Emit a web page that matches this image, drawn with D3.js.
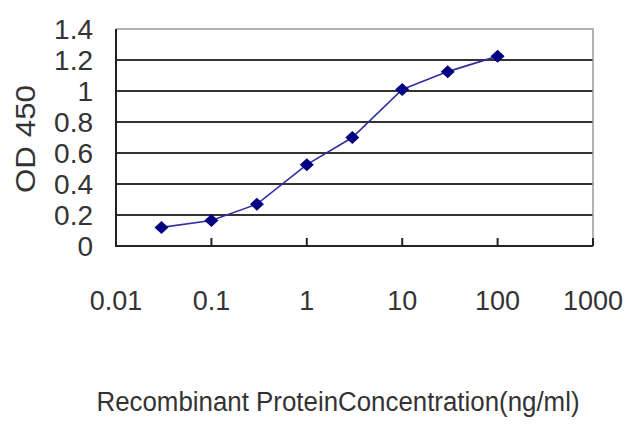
<!DOCTYPE html>
<html>
<head>
<meta charset="utf-8">
<script src="https://cdn.jsdelivr.net/npm/d3@7.9.0/dist/d3.min.js"></script>
<style>
  body { margin: 0; background: #fff; }
  svg text { font-family: "Liberation Sans", Arial, sans-serif; fill: #333; }
</style>
</head>
<body>
<svg id="chart" width="640" height="427"></svg>
<script>
// concentrations (ng/ml) and OD readings
const concentrations = [0.03, 0.1, 0.3, 1, 3, 10, 30, 100];
const odValues = [0.12, 0.165, 0.27, 0.525, 0.70, 1.01, 1.125, 1.225];
const xTicks = [0.01, 0.1, 1, 10, 100, 1000];
const yTicks = [0, 0.2, 0.4, 0.6, 0.8, 1, 1.2, 1.4];

const svg = d3.select('#chart');
const margin = { left: 116, right: 47, top: 29, bottom: 181 };
const width = 640 - margin.left - margin.right;
const height = 427 - margin.top - margin.bottom;

const x = d3.scaleLog().domain([0.01, 1000]).range([0, width]);
const y = d3.scaleLinear().domain([0, 1.4]).range([height, 0]);

const g = svg.append('g')
  .attr('transform', `translate(${margin.left},${margin.top})`);

// gridlines (skip 0 and top)
g.selectAll('line.grid')
  .data(yTicks.filter((d) => d > 0 && d < 1.4))
  .join('line')
  .attr('class', 'grid')
  .attr('x1', 0).attr('x2', width)
  .attr('y1', (d) => y(d)).attr('y2', (d) => y(d))
  .attr('stroke', '#333').attr('stroke-width', 2);

// top + right border, grey
g.append('path')
  .attr('d', `M0,${y(1.4)}H${width}V${height}`)
  .attr('fill', 'none').attr('stroke', '#999').attr('stroke-width', 1.5);

// left + bottom axis, black
g.append('path')
  .attr('d', `M0,${y(1.4)}V${height}H${width}`)
  .attr('fill', 'none').attr('stroke', '#222').attr('stroke-width', 2);

// inward ticks on x axis
g.selectAll('line.xtick')
  .data(xTicks.slice(1))
  .join('line')
  .attr('class', 'xtick')
  .attr('x1', (d) => x(d)).attr('x2', (d) => x(d))
  .attr('y1', height).attr('y2', height - 8)
  .attr('stroke', '#222').attr('stroke-width', 2);

// y tick labels
g.selectAll('text.ylab')
  .data(yTicks)
  .join('text')
  .attr('class', 'ylab')
  .attr('x', -23)
  .attr('y', (d) => y(d))
  .attr('dy', '0.36em')
  .attr('text-anchor', 'end')
  .attr('font-size', 28)
  .text((d) => d3.format('')(d));

// x tick labels
g.selectAll('text.xlab')
  .data(xTicks)
  .join('text')
  .attr('class', 'xlab')
  .attr('x', (d) => x(d))
  .attr('y', height + 64)
  .attr('text-anchor', 'middle')
  .attr('font-size', 27)
  .text((d) => String(d));

// axis titles
svg.append('text')
  .attr('x', 338).attr('y', 411)
  .attr('text-anchor', 'middle')
  .attr('font-size', 27)
  .attr('textLength', 483)
  .attr('lengthAdjust', 'spacingAndGlyphs')
  .text('Recombinant ProteinConcentration(ng/ml)');

svg.append('text')
  .attr('transform', 'translate(35,139) rotate(-90)')
  .attr('text-anchor', 'middle')
  .attr('font-size', 28)
  .attr('textLength', 108)
  .attr('lengthAdjust', 'spacingAndGlyphs')
  .text('OD 450');

// series line
const points = concentrations.map((c, i) => [c, odValues[i]]);
g.append('path')
  .datum(points)
  .attr('fill', 'none')
  .attr('stroke', '#2f2fa0')
  .attr('stroke-width', 1.6)
  .attr('d', d3.line().x((d) => x(d[0])).y((d) => y(d[1])));

// diamond markers
g.selectAll('path.marker')
  .data(points)
  .join('path')
  .attr('class', 'marker')
  .attr('transform', (d) => `translate(${x(d[0])},${y(d[1])})`)
  .attr('d', 'M0,-6.5L7,0L0,6.5L-7,0Z')
  .attr('fill', '#000080');
</script>
</body>
</html>
